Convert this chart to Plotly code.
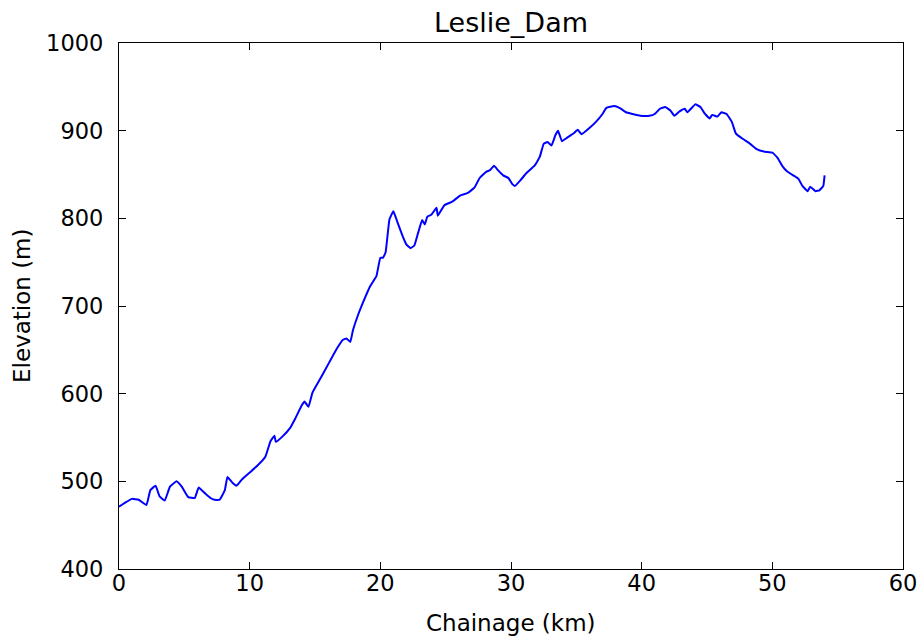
import plotly.graph_objects as go

chainage_km = [0.0, 0.5, 1.0, 1.5, 2.1, 2.4, 2.8, 3.1, 3.5, 3.9, 4.4, 4.8, 5.3, 5.8, 6.1, 6.6, 7.0, 7.3, 7.7,
               8.1, 8.3, 8.7, 9.0, 9.4, 10.0, 10.6, 11.2, 11.6, 11.9, 12.0, 12.5, 13.1, 13.5, 14.0, 14.2, 14.5,
               14.8, 15.4, 16.1, 16.7, 17.1, 17.4, 17.7, 17.9, 18.3, 18.7, 19.2, 19.7, 20.0, 20.2, 20.4, 20.7,
               21.0, 21.3, 21.7, 22.0, 22.3, 22.6, 22.9, 23.2, 23.4, 23.6, 23.9, 24.3, 24.4, 24.9, 25.5, 26.1,
               26.7, 27.2, 27.6, 28.1, 28.4, 28.7, 29.0, 29.4, 29.8, 30.1, 30.3, 30.7, 31.2, 31.8, 32.2, 32.5,
               32.8, 33.1, 33.4, 33.6, 33.9, 34.3, 34.8, 35.1, 35.4, 36.0, 36.5, 37.0, 37.3, 37.9, 38.3, 38.8,
               39.3, 39.9, 40.6, 41.0, 41.4, 41.8, 42.2, 42.5, 42.9, 43.3, 43.5, 44.1, 44.5, 44.8, 45.2, 45.4,
               45.8, 46.1, 46.5, 46.9, 47.2, 47.7, 48.3, 48.8, 49.4, 50.0, 50.4, 50.8, 51.1, 51.6, 52.0, 52.3,
               52.7, 52.9, 53.3, 53.6, 53.9, 54.0]
elevation_m = [471, 476, 480, 479, 473, 490, 495, 483, 478, 494, 500, 494, 482, 481, 493, 486, 481, 479, 479,
               490, 505, 498, 495, 502, 510, 518, 528, 546, 552, 545, 551, 561, 572, 587, 591, 585,
               601, 617, 636, 652, 661, 663, 659, 672, 690, 705, 722, 734, 755, 755, 761, 799,
               808, 796, 780, 770, 766, 769, 784, 798, 793, 802, 804, 812, 803, 815, 819, 826,
               829, 835, 846, 853, 855, 860, 855, 849, 846, 839, 837, 843, 852, 860, 870, 885,
               887, 883, 895, 900, 888, 892, 897, 901, 896, 903, 910, 919, 926, 928, 926, 921,
               919, 917, 917, 919, 925, 927, 923, 917, 922, 925, 921, 930, 927, 920, 914, 918,
               916, 921, 919, 910, 897, 891, 885, 879, 876, 875, 869, 859, 854, 849, 845, 837,
               831, 836, 831, 832, 837, 849]

x_ticks = [0, 10, 20, 30, 40, 50, 60]
y_ticks = [400, 500, 600, 700, 800, 900, 1000]

font = "DejaVu Sans"
tick_size = 22.5
label_size = 23
title_size = 27

fig = go.Figure(go.Scatter(x=chainage_km, y=elevation_m, mode="lines",
                           line=dict(color="#0000ff", width=2, shape="spline", smoothing=0.3)))

axis_common = dict(showgrid=False, zeroline=False, showline=True, linecolor="black", linewidth=1.3,
                   mirror="ticks", ticks="inside", ticklen=7, tickcolor="black", tickwidth=1,
                   automargin=False, ticklabeloverflow="allow",
                   tickfont=dict(family=font, size=tick_size, color="black"))

fig.update_layout(
    width=917, height=638,
    margin=dict(l=119, r=14, t=43, b=69, autoexpand=False),
    paper_bgcolor="white", plot_bgcolor="white",
    showlegend=False,
    xaxis=dict(range=[0, 60], tickvals=x_ticks, ticktext=[str(v) for v in x_ticks],
               ticklabelstandoff=-6, **axis_common),
    yaxis=dict(range=[400, 1000], tickvals=y_ticks, ticktext=[str(v) for v in y_ticks],
               ticklabelstandoff=10, **axis_common),
    annotations=[
        dict(text="Leslie_Dam", xref="paper", yref="paper", x=0.5, y=1, yshift=21,
             showarrow=False, xanchor="center", yanchor="middle",
             font=dict(family=font, size=title_size, color="black")),
        dict(text="Chainage (km)", xref="paper", yref="paper", x=0.5, y=0, yshift=-54,
             showarrow=False, xanchor="center", yanchor="middle",
             font=dict(family=font, size=label_size, color="black")),
        dict(text="Elevation (m)", xref="paper", yref="paper", x=0, y=0.5, xshift=-97,
             showarrow=False, xanchor="center", yanchor="middle", textangle=-90,
             font=dict(family=font, size=label_size, color="black")),
    ],
)

fig.write_html("out.html", config={"displayModeBar": False},
               post_script="document.body.style.margin='0';document.body.style.overflow='hidden';")
